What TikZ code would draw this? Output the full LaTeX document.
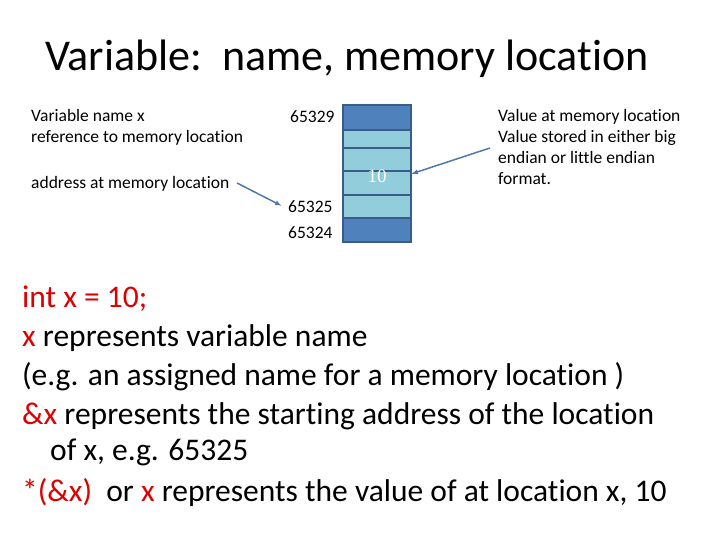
\documentclass[tikz,border=0pt]{standalone}
\usetikzlibrary{arrows.meta}
\usepackage{fontspec}
\setmainfont{Carlito}[Ligatures={NoCommon}]
\definecolor{dk}{RGB}{79,129,189}
\definecolor{lt}{RGB}{146,205,220}
\definecolor{ed}{RGB}{56,93,138}
\definecolor{ar}{RGB}{80,120,170}
\definecolor{rd}{RGB}{220,0,0}
\begin{document}
\begin{tikzpicture}[x=1pt,y=-1pt,
  sm/.style={anchor=base west,inner sep=0pt,font=\fontsize{17.5}{21}\selectfont},
  bd/.style={anchor=base west,inner sep=0pt,font=\fontsize{31.5}{39}\selectfont},
  cell/.style={draw=ed,line width=1.5pt},
  arr/.style={draw=ar,line width=1.5pt,-{Latex[length=7pt,width=5pt]}}]
\useasboundingbox (0,0) rectangle (720,540);
\node[anchor=base west,inner sep=0pt,font=\fontsize{44}{50}\selectfont] (t) at (45,71) {Variable:\ \ name, memory location};
\node[sm] (l1) at (31,122) {Variable name x};
\node[sm] (l2) at (31,143) {reference to memory location};
\node[sm] (l3) at (31,189) {address at memory location};
\node[sm] (a1) at (290,123) {65329};
\node[sm] (a2) at (288,213) {65325};
\node[sm] (a3) at (288,238) {65324};
\node[sm] (r1) at (498,122) {Value at memory location};
\node[sm] (r2) at (498,143) {Value stored in either big};
\node[sm] (r3) at (498,164) {endian or little endian};
\node[sm] (r4) at (498,185) {format.};
\fill[cell,fill=dk] (343,105) rectangle (411,130);
\fill[cell,fill=lt] (343,130) rectangle (411,218);
\fill[cell,fill=dk] (343,218) rectangle (411,242);
\draw[ed,line width=1.5pt] (342,148) -- (411,148) (342,171) -- (411,171) (342,195) -- (411,195);
\node[inner sep=0pt,text=white] (v) at (377,176) {\fontspec{Liberation Serif}\fontsize{19}{19}\selectfont 10};
\coordinate (m) at (411,174);
\coordinate (p) at (490,148);
\coordinate (q) at (237,183);
\coordinate (s) at (282,206);
\draw[arr] (p) -- (m);
\draw[arr] (q) -- (s);
\node[bd,text=rd] (b1) at (22,307) {int x = 10;};
\node[bd] (b2) at (22,346) {\textcolor{rd}{x} represents variable name};
\node[bd] (b3) at (22,385) {(e.g. an assigned name for a memory location )};
\node[bd] (b4) at (22,424) {\textcolor{rd}{\&x} represents the starting address of the location};
\node[bd] (b5) at (50,460) {of x, e.g. 65325};
\node[bd] (b6) at (22,501) {\textcolor{rd}{*(\&x)}\ \ or \textcolor{rd}{x} represents the value of at location x, 10};
\end{tikzpicture}
\end{document}
